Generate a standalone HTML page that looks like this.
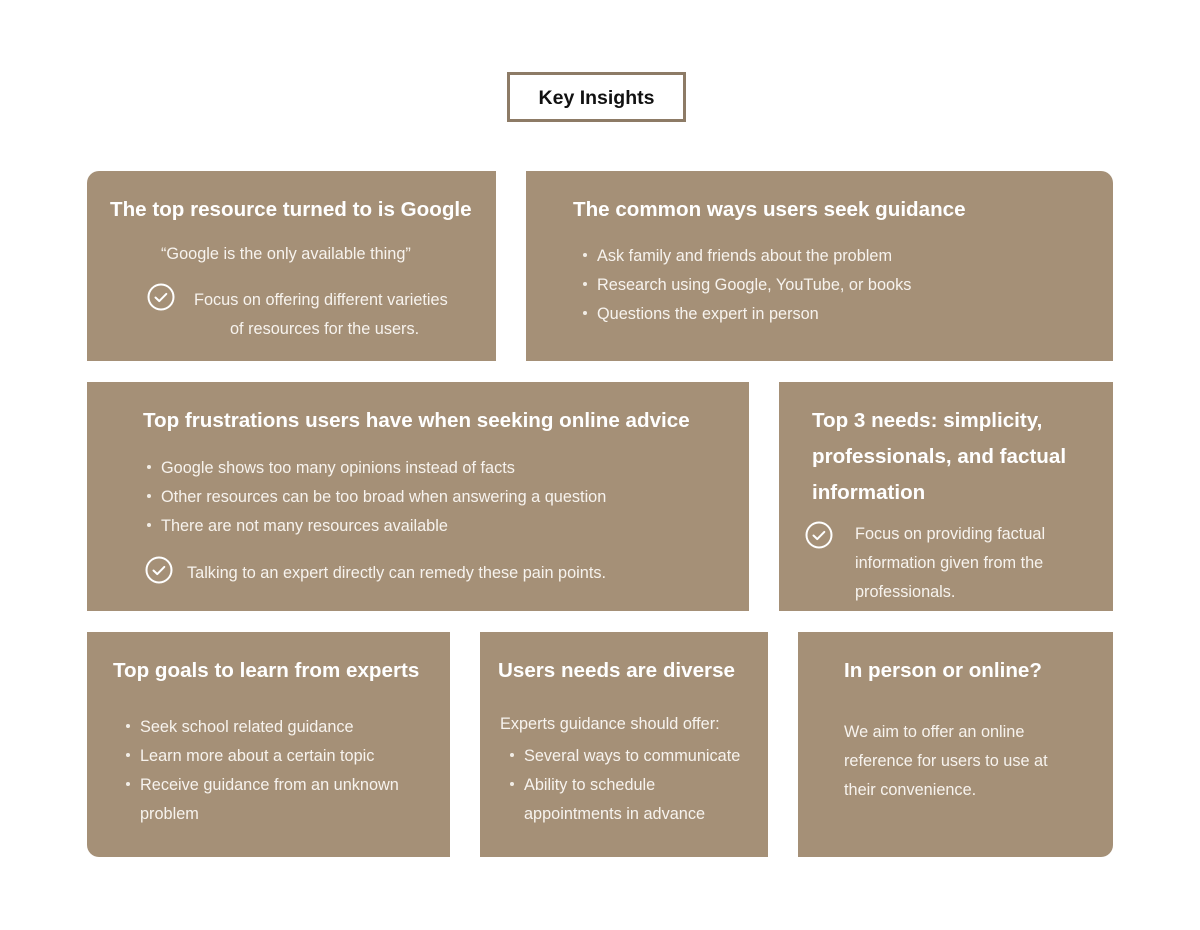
<!DOCTYPE html>
<html><head><meta charset="utf-8">
<style>
html,body{margin:0;padding:0;background:#fff;}
body{width:1200px;height:930px;position:relative;overflow:hidden;font-family:"Liberation Sans",sans-serif;}
.card{position:absolute;background:#a59077;}
.t{position:absolute;white-space:nowrap;color:#fff;height:24px;line-height:24px;margin-top:2px;}
.h{font-weight:bold;font-size:20.6px;}
.b{font-size:16.3px;color:#f7f3ee;}
.dot{position:absolute;width:4px;height:4px;border-radius:50%;background:#f2ede6;}
svg.chk{position:absolute;}
</style></head><body>
<div style="position:absolute;left:507px;top:72px;width:173px;height:44px;border:3px solid #8d7b66;font-weight:bold;font-size:19.5px;line-height:46px;text-align:center;color:#111;">Key Insights</div>

<div class="card" style="left:87px;top:171px;width:409px;height:190px;border-top-left-radius:12px;"></div>
<div class="card" style="left:526px;top:171px;width:587px;height:190px;border-top-right-radius:12px;"></div>
<div class="card" style="left:87px;top:382px;width:662px;height:229px;"></div>
<div class="card" style="left:779px;top:382px;width:334px;height:229px;"></div>
<div class="card" style="left:87px;top:632px;width:363px;height:225px;border-bottom-left-radius:12px;"></div>
<div class="card" style="left:480px;top:632px;width:288px;height:225px;"></div>
<div class="card" style="left:798px;top:632px;width:315px;height:225px;border-bottom-right-radius:12px;"></div>

<!-- card 1 -->
<div class="t h" style="left:110px;top:196px;">The top resource turned to is Google</div>
<div class="t b" style="left:161px;top:240px;">“Google is the only available thing”</div>
<svg class="chk" style="left:147px;top:283px" width="28" height="28"><circle cx="14" cy="14" r="12.5" fill="none" stroke="#fff" stroke-width="2"/><path d="M8.5 14.5l3.8 3.6 7-7.2" fill="none" stroke="#fff" stroke-width="2" stroke-linecap="round" stroke-linejoin="round"/></svg>
<div class="t b" style="left:194px;top:286px;">Focus on offering different varieties</div>
<div class="t b" style="left:230px;top:315px;">of resources for the users.</div>

<!-- card 2 -->
<div class="t h" style="left:573px;top:196px;">The common ways users seek guidance</div>
<div class="dot" style="left:583px;top:253px"></div><div class="t b" style="left:597px;top:242px;">Ask family and friends about the problem</div>
<div class="dot" style="left:583px;top:282px"></div><div class="t b" style="left:597px;top:271px;">Research using Google, YouTube, or books</div>
<div class="dot" style="left:583px;top:311px"></div><div class="t b" style="left:597px;top:300px;">Questions the expert in person</div>

<!-- card 3 -->
<div class="t h" style="left:143px;top:407px;">Top frustrations users have when seeking online advice</div>
<div class="dot" style="left:147px;top:465px"></div><div class="t b" style="left:161px;top:454px;">Google shows too many opinions instead of facts</div>
<div class="dot" style="left:147px;top:494px"></div><div class="t b" style="left:161px;top:483px;">Other resources can be too broad when answering a question</div>
<div class="dot" style="left:147px;top:523px"></div><div class="t b" style="left:161px;top:512px;">There are not many resources available</div>
<svg class="chk" style="left:145px;top:556px" width="28" height="28"><circle cx="14" cy="14" r="12.5" fill="none" stroke="#fff" stroke-width="2"/><path d="M8.5 14.5l3.8 3.6 7-7.2" fill="none" stroke="#fff" stroke-width="2" stroke-linecap="round" stroke-linejoin="round"/></svg>
<div class="t b" style="left:187px;top:559px;">Talking to an expert directly can remedy these pain points.</div>

<!-- card 4 -->
<div class="t h" style="left:812px;top:407px;">Top 3 needs: simplicity,</div>
<div class="t h" style="left:812px;top:443px;">professionals, and factual</div>
<div class="t h" style="left:812px;top:479px;">information</div>
<svg class="chk" style="left:805px;top:521px" width="28" height="28"><circle cx="14" cy="14" r="12.5" fill="none" stroke="#fff" stroke-width="2"/><path d="M8.5 14.5l3.8 3.6 7-7.2" fill="none" stroke="#fff" stroke-width="2" stroke-linecap="round" stroke-linejoin="round"/></svg>
<div class="t b" style="left:855px;top:520px;">Focus on providing factual</div>
<div class="t b" style="left:855px;top:549px;">information given from the</div>
<div class="t b" style="left:855px;top:578px;">professionals.</div>

<!-- card 5 -->
<div class="t h" style="left:113px;top:657px;">Top goals to learn from experts</div>
<div class="dot" style="left:126px;top:724px"></div><div class="t b" style="left:140px;top:713px;">Seek school related guidance</div>
<div class="dot" style="left:126px;top:753px"></div><div class="t b" style="left:140px;top:742px;">Learn more about a certain topic</div>
<div class="dot" style="left:126px;top:782px"></div><div class="t b" style="left:140px;top:771px;">Receive guidance from an unknown</div>
<div class="t b" style="left:140px;top:800px;">problem</div>

<!-- card 6 -->
<div class="t h" style="left:498px;top:657px;">Users needs are diverse</div>
<div class="t b" style="left:500px;top:710px;">Experts guidance should offer:</div>
<div class="dot" style="left:510px;top:753px"></div><div class="t b" style="left:524px;top:742px;">Several ways to communicate</div>
<div class="dot" style="left:510px;top:782px"></div><div class="t b" style="left:524px;top:771px;">Ability to schedule</div>
<div class="t b" style="left:524px;top:800px;">appointments in advance</div>

<!-- card 7 -->
<div class="t h" style="left:844px;top:657px;">In person or online?</div>
<div class="t b" style="left:844px;top:718px;">We aim to offer an online</div>
<div class="t b" style="left:844px;top:747px;">reference for users to use at</div>
<div class="t b" style="left:844px;top:776px;">their convenience.</div>
</body></html>
